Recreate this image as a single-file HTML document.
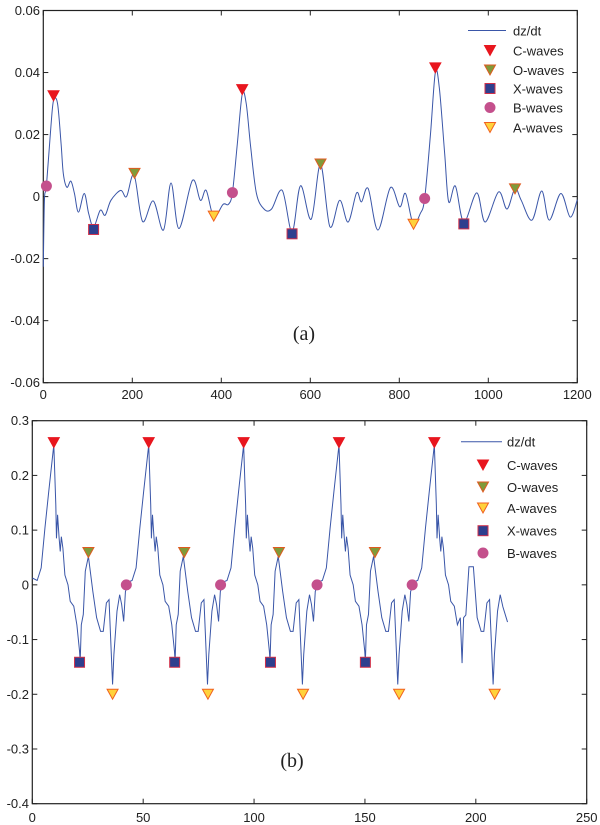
<!DOCTYPE html>
<html><head><meta charset="utf-8"><style>
html,body{margin:0;padding:0;background:#fff;}
svg{display:block;}
text{font-family:"Liberation Sans",Arial,sans-serif;fill:#222;}
</style></head><body>
<svg id="svg" width="600" height="825" viewBox="0 0 600 825"></svg>
<script>
// ---- Panel (a) data ----
const aCurveX=[0,2.6,7,17,23,32,40,45,53,62,70,79,92,102,113,128,139,152,174,187,204,223,247,270,287,305,335,353,366,383,404,416,425,436,447,456,466,479,496,513,537,559,578,602,623,644,666,685,704,715,730,752,780,801,814,831,847,857,870,881,890,902,911,926,945,974,993,1023,1042,1060,1074,1098,1120,1137,1163,1184,1200];
const aCurveY=[-0.0226,-0.001,0.0034,0.0224,0.031,0.030,0.017,0.0074,0.003,0.005,0.001,-0.005,0.001,-0.0055,-0.0098,-0.0044,-0.006,-0.0012,0.002,0,0.007,-0.008,-0.0014,-0.0108,0.0044,-0.0103,0.0052,-0.0012,0.002,-0.0065,-0.0025,-0.0025,0.0013,0.017,0.033,0.030,0.016,0.001,-0.004,-0.004,0.002,-0.0114,0.0035,-0.0073,0.0104,-0.0097,-0.0012,-0.0082,0.0012,-0.0017,0.0026,-0.0108,0.0029,-0.0033,0.001,-0.0087,-0.0055,-0.0006,0.020,0.040,0.035,0.0138,-0.0017,0.0034,-0.0082,0.0012,-0.0082,0.0015,-0.004,0.0026,-0.0012,-0.0076,0.0018,-0.0076,0.001,-0.0066,-0.001];
const aCx=[23,447,881], aCy=[0.0325,0.0345,0.0415];
const aOx=[205,623,1060], aOy=[0.0075,0.0105,0.0025];
const aXx=[113,559,945], aXy=[-0.0106,-0.012,-0.0088];
const aBx=[7,425,857], aBy=[0.0034,0.0013,-0.0006];
const aAx=[383,832], aAy=[-0.0063,-0.0089];
const aXTicks=[0,200,400,600,800,1000,1200];
const aYTicks=[0.06,0.04,0.02,0,-0.02,-0.04,-0.06];
const aYLabels=["0.06","0.04","0.02","0","-0.02","-0.04","-0.06"];

// ---- Panel (b) data ----
const bCurveX=[0,2.2,4.0,5.7,7.4,9.7,10.6,10.9,11.4,12.1,12.6,13.1,13.8,14.7,16.1,17.1,18.7,20.1,21.3,21.6,22.1,23.0,23.9,25.3,27.3,29.0,30.8,32.0,33.4,34.6,36.2,36.8,38.2,39.4,40.3,41.2,42.0,43.8,
45.0,46.8,48.5,50.2,52.5,53.4,53.7,54.2,54.9,55.4,55.9,56.6,57.5,58.9,59.9,61.5,62.9,64.1,64.4,64.9,65.8,66.7,68.1,70.1,71.8,73.6,74.8,76.2,77.4,79.0,79.6,81.0,82.2,83.1,84.0,84.8,86.6,
87.8,89.6,91.3,93.0,95.3,96.2,96.5,97.0,97.7,98.2,98.7,99.4,100.3,101.7,102.7,104.3,105.7,106.9,107.2,107.7,108.6,109.5,110.9,112.9,114.6,116.4,117.6,119.0,120.2,121.8,122.4,123.8,125.0,125.9,126.8,127.6,129.4,
130.8,132.6,134.3,136.0,138.3,139.2,139.5,140.0,140.7,141.2,141.7,142.4,143.3,144.7,145.7,147.3,148.7,149.9,150.2,150.7,151.6,152.5,153.9,155.9,157.6,159.4,160.6,162.0,163.2,164.8,165.4,166.8,168.0,168.9,169.8,170.6,172.4,
173.8,175.6,177.3,179.0,181.3,182.2,182.5,183.0,183.7,184.2,184.7,185.4,186.3,187.7,188.7,190.3,191.7,193.0,193.8,194.5,195.5,196.9,198.9,200.6,202.4,203.6,205.0,206.2,207.8,208.4,209.8,211.0,212.2,214.3];
const bCurveY=[0.0125,0.008,0.031,0.104,0.17,0.256,0.146,0.085,0.128,0.085,0.061,0.088,0.067,0.018,0.0,-0.03,-0.039,-0.073,-0.121,-0.14,-0.073,-0.054,0.025,0.052,-0.012,-0.06,-0.085,-0.085,-0.033,-0.027,-0.182,-0.127,-0.048,-0.018,-0.036,-0.067,-0.012,0.006,
0.008,0.031,0.104,0.17,0.256,0.146,0.085,0.128,0.085,0.061,0.088,0.067,0.018,0.0,-0.03,-0.039,-0.073,-0.121,-0.14,-0.073,-0.054,0.025,0.052,-0.012,-0.06,-0.085,-0.085,-0.033,-0.027,-0.182,-0.127,-0.048,-0.018,-0.036,-0.067,-0.012,0.006,
0.008,0.031,0.104,0.17,0.256,0.146,0.085,0.128,0.085,0.061,0.088,0.067,0.018,0.0,-0.03,-0.039,-0.073,-0.121,-0.14,-0.073,-0.054,0.025,0.052,-0.012,-0.06,-0.085,-0.085,-0.033,-0.027,-0.182,-0.127,-0.048,-0.018,-0.036,-0.067,-0.012,0.006,
0.008,0.031,0.104,0.17,0.256,0.146,0.085,0.128,0.085,0.061,0.088,0.067,0.018,0.0,-0.03,-0.039,-0.073,-0.121,-0.14,-0.073,-0.054,0.025,0.052,-0.012,-0.06,-0.085,-0.085,-0.033,-0.027,-0.182,-0.127,-0.048,-0.018,-0.036,-0.067,-0.012,0.006,
0.008,0.031,0.104,0.17,0.256,0.146,0.085,0.128,0.085,0.061,0.088,0.067,0.018,0.0,-0.03,-0.039,-0.073,-0.06,-0.143,-0.06,-0.055,0.033,0.033,-0.06,-0.085,-0.085,-0.033,-0.027,-0.182,-0.127,-0.048,-0.018,-0.04,-0.068];
const bCx=[9.7,52.5,95.3,138.3,181.3], bCy=[0.26,0.26,0.26,0.26,0.26];
const bOx=[25.3,68.5,111.2,154.5], bOy=[0.059,0.059,0.059,0.059];
const bAx=[36.2,79.2,122.1,165.4,208.5], bAy=[-0.2,-0.2,-0.2,-0.2,-0.2];
const bXx=[21.3,64.2,107.4,150.2], bXy=[-0.1415,-0.1415,-0.1415,-0.1415];
const bBx=[42.4,84.9,128.4,171.3], bBy=[0,0,0,0];
const bXTicks=[0,50,100,150,200,250];
const bYTicks=[0.3,0.2,0.1,0,-0.1,-0.2,-0.3,-0.4];
const bYLabels=["0.3","0.2","0.1","0","-0.1","-0.2","-0.3","-0.4"];

const NS="http://www.w3.org/2000/svg";
const svg=document.getElementById('svg');
function mk(tag,attrs,parent){const e=document.createElementNS(NS,tag);for(const k in attrs)e.setAttribute(k,attrs[k]);(parent||svg).appendChild(e);return e;}

const STY={
 C:{shape:'tri',fill:'#e8161e',stroke:'#e8161e'},
 O:{shape:'tri',fill:'#7f9b3a',stroke:'#e05a20'},
 X:{shape:'sq',fill:'#2e3f8e',stroke:'#d0304a'},
 B:{shape:'circ',fill:'#c4508c',stroke:'#c4508c'},
 A:{shape:'tri',fill:'#ffd23c',stroke:'#f06020'}
};
function marker(g,type,px,py){
 const s=STY[type];let e;
 if(s.shape==='tri'){e=mk('polygon',{points:`${px-5.5},${py-5} ${px+5.5},${py-5} ${px},${py+5}`,fill:s.fill,stroke:s.stroke,'stroke-width':1},g);}
 else if(s.shape==='sq'){e=mk('rect',{x:px-5,y:py-5,width:10,height:10,fill:s.fill,stroke:s.stroke,'stroke-width':1},g);}
 else {e=mk('circle',{cx:px,cy:py,r:5,fill:s.fill,stroke:s.stroke,'stroke-width':1},g);}
 return e;
}
function smoothPath(pts){
 let d=`M${pts[0][0]},${pts[0][1]}`;
 for(let i=0;i<pts.length-1;i++){
  const p0=pts[Math.max(0,i-1)],p1=pts[i],p2=pts[i+1],p3=pts[Math.min(pts.length-1,i+2)];
  const c1x=p1[0]+(p2[0]-p0[0])/6,c1y=p1[1]+(p2[1]-p0[1])/6;
  const c2x=p2[0]-(p3[0]-p1[0])/6,c2y=p2[1]-(p3[1]-p1[1])/6;
  d+=` C${c1x.toFixed(2)},${c1y.toFixed(2)} ${c2x.toFixed(2)},${c2y.toFixed(2)} ${p2[0].toFixed(2)},${p2[1].toFixed(2)}`;
 }
 return d;
}
function panel(cfg){
 const {name,L,R,T,B,xmin,xmax,ymin,ymax,xt,yt,yl,cx,cy,smooth,series,legendOrder,leg,tag,tagX,tagY,xLabY,yLabX}=cfg;
 const sx=v=>L+(v-xmin)/(xmax-xmin)*(R-L);
 const sy=v=>T+(ymax-v)/(ymax-ymin)*(B-T);
 const g=mk('g',{});
 
 
 const frame=mk('rect',{x:L,y:T,width:R-L,height:B-T,fill:'none',stroke:'#222','stroke-width':1.2},g);
 
 
 xt.forEach(v=>{
  const x=sx(v);
  const t1=mk('line',{x1:x,y1:B,x2:x,y2:B-5,stroke:'#222'},g);
  
  
  mk('line',{x1:x,y1:T,x2:x,y2:T+5,stroke:'#222'},g);
  const tx=mk('text',{x:x,y:xLabY,'font-size':13,'text-anchor':'middle'},g);
  tx.textContent=String(v);
  
  
 });
 yt.forEach((v,i)=>{
  const y=sy(v);
  const t1=mk('line',{x1:L,y1:y,x2:L+5,y2:y,stroke:'#222'},g);
  
  
  mk('line',{x1:R,y1:y,x2:R-5,y2:y,stroke:'#222'},g);
  const tx=mk('text',{x:yLabX,y:y+4.5,'font-size':13,'text-anchor':'end'},g);
  tx.textContent=yl[i];
  
  
 });
 const pts=cx.map((v,i)=>[sx(v),sy(cy[i])]);
 const d=smooth?smoothPath(pts):'M'+pts.map(p=>p[0].toFixed(2)+','+p[1].toFixed(2)).join(' L');
 const path=mk('path',{d:d,fill:'none',stroke:'#3a56a8','stroke-width':1},g);
 
 
 Object.keys(series).forEach(k=>{
  const [xs,ys]=series[k];
  xs.forEach((v,i)=>{
   const m=marker(g,k,sx(v),sy(ys[i]));
   
   
  });
 });
 // legend
 const lg=mk('g',{},g);
 
 
 const ll=mk('line',{x1:leg.lx1,y1:leg.rows[0],x2:leg.lx2,y2:leg.rows[0],stroke:'#3a56a8','stroke-width':1},lg);
 
 
 const t0=mk('text',{x:leg.tx,y:leg.rows[0]+5,'font-size':13},lg);
 t0.textContent='dz/dt';
 
 
 legendOrder.forEach((k,i)=>{
  const y=leg.rows[i+1];
  marker(lg,k,leg.mx,y);
  const t=mk('text',{x:leg.tx,y:y+5,'font-size':13},lg);
  t.textContent=k+'-waves';
  
  
 });
 const tg=mk('text',{x:tagX,y:tagY,'font-size':20,'text-anchor':'middle',style:'font-family:"Liberation Serif",serif'},g);
 tg.textContent=tag;
 
 
}
panel({name:'panel-a',L:43.3,R:577.3,T:10.5,B:382.7,xmin:0,xmax:1200,ymin:-0.06,ymax:0.06,xt:aXTicks,yt:aYTicks,yl:aYLabels,
 cx:aCurveX,cy:aCurveY,smooth:true,
 series:{C:[aCx,aCy],O:[aOx,aOy],X:[aXx,aXy],B:[aBx,aBy],A:[aAx,aAy]},
 legendOrder:['C','O','X','B','A'],
 leg:{lx1:468,lx2:506,tx:513,mx:490,rows:[30.5,50.5,70,88.5,107.5,127.5]},
 tag:'(a)',tagX:304,tagY:340,xLabY:399,yLabX:40});
panel({name:'panel-b',L:32.3,R:586.7,T:420.7,B:803.7,xmin:0,xmax:250,ymin:-0.4,ymax:0.3,xt:bXTicks,yt:bYTicks,yl:bYLabels,
 cx:bCurveX,cy:bCurveY,smooth:false,
 series:{C:[bCx,bCy],O:[bOx,bOy],A:[bAx,bAy],X:[bXx,bXy],B:[bBx,bBy]},
 legendOrder:['C','O','A','X','B'],
 leg:{lx1:461,lx2:502,tx:507,mx:483,rows:[441.7,465,487,508,530.7,553]},
 tag:'(b)',tagX:292,tagY:767,xLabY:822,yLabX:29});
</script>
</body></html>
